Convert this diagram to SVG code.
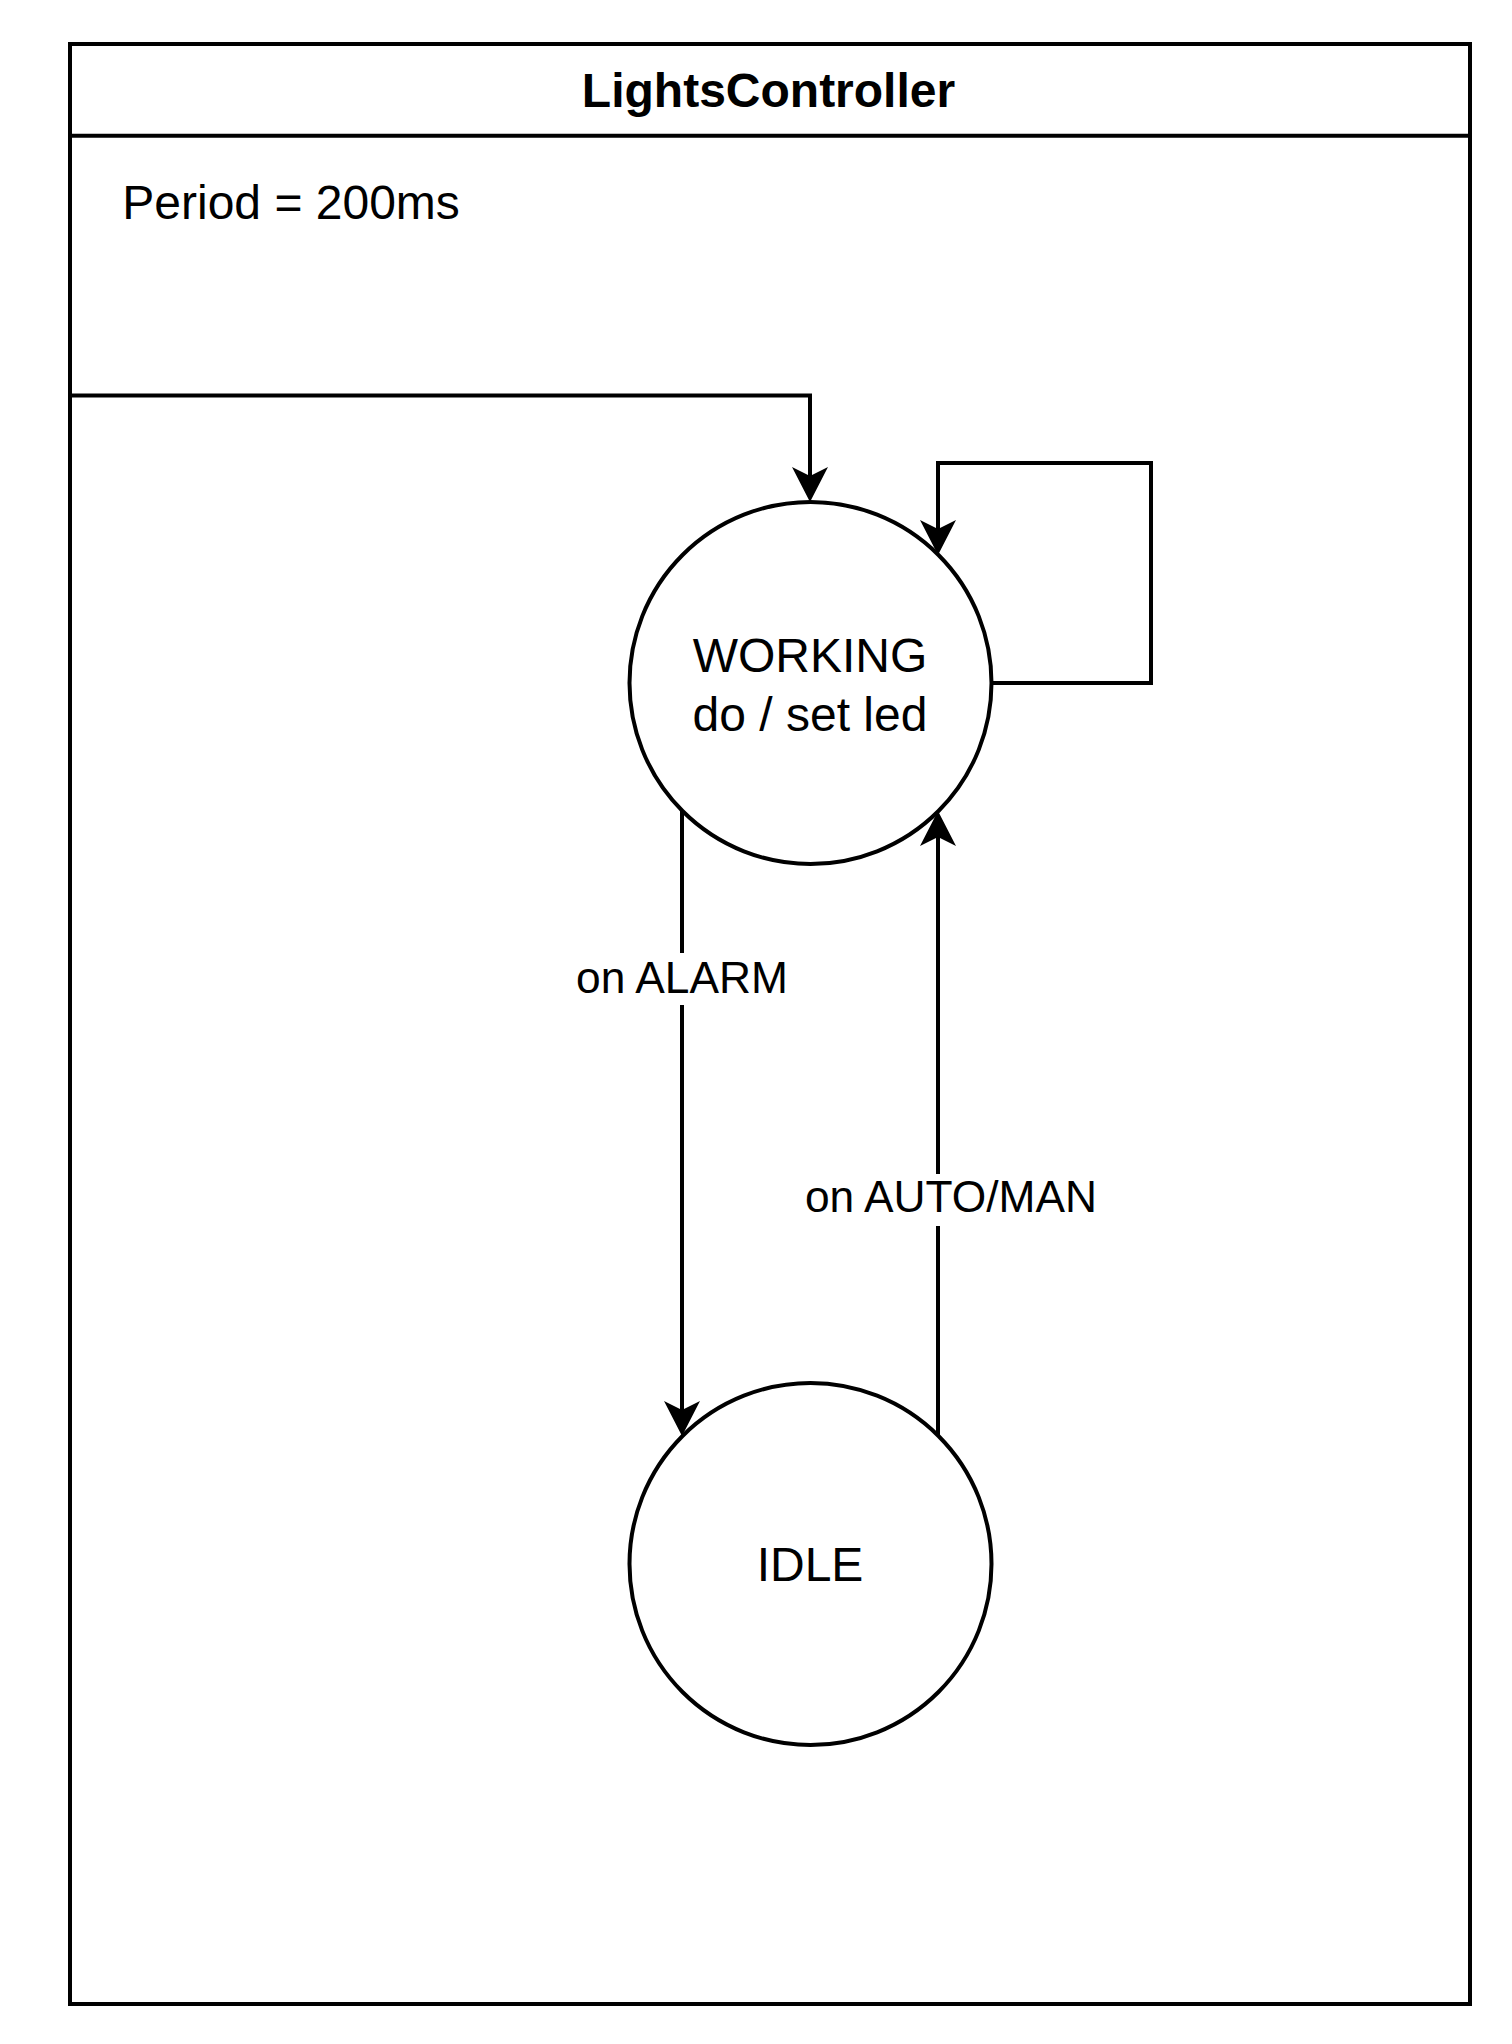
<svg xmlns="http://www.w3.org/2000/svg" width="1512" height="2044" viewBox="0 0 1512 2044">
<style>
.ln{fill:none;stroke:#000;stroke-width:4;}
.st{fill:#fff;stroke:#000;stroke-width:4;}
.t{font-family:"Liberation Sans",Arial,sans-serif;fill:#000;}
.big{font-size:48px;}
.lbl{font-size:44.3px;}
.b{font-weight:bold;font-size:48px;}
</style>
<defs>
<marker id="arr" markerUnits="userSpaceOnUse" viewBox="0 -18 35 36" markerWidth="35" markerHeight="36" refX="9" refY="0" orient="auto">
<path d="M35,0 L0,-18 L9,0 L0,18 Z" fill="#000"/>
</marker>
</defs>
<rect width="1512" height="2044" fill="#fff"/>
<g id="container">
<rect class="ln" x="70" y="44" width="1400" height="1960"/>
<line class="ln" x1="70" y1="135.7" x2="1470" y2="135.7"/>
<text class="t b" x="768.5" y="106.7" text-anchor="middle">LightsController</text>
<text class="t big" x="122.3" y="219.3">Period = 200ms</text>
</g>
<g id="connectors">
<path class="ln" d="M70,395.5 H810 V476" marker-end="url(#arr)"/>
<path class="ln" d="M991,683 H1151 V463 H938 V529" marker-end="url(#arr)"/>
<path class="ln" d="M682,811 V1410" marker-end="url(#arr)"/>
<path class="ln" d="M938,1437 V837" marker-end="url(#arr)"/>
<g id="label-alarm">
<rect x="575" y="953" width="214" height="52" fill="#fff"/>
<text class="t lbl" x="682" y="992.5" text-anchor="middle">on ALARM</text>
</g>
<g id="label-automan">
<rect x="804" y="1174" width="294" height="52" fill="#fff"/>
<text class="t lbl" x="951" y="1212" text-anchor="middle">on AUTO/MAN</text>
</g>
</g>
<g id="working">
<circle class="st" cx="810.5" cy="683" r="181"/>
<text class="t big" x="810" y="672" text-anchor="middle">WORKING</text>
<text class="t big" x="810" y="731" text-anchor="middle">do / set led</text>
</g>
<g id="idle">
<circle class="st" cx="810.5" cy="1564" r="181"/>
<text class="t big" x="810" y="1581" text-anchor="middle">IDLE</text>
</g>
</svg>
